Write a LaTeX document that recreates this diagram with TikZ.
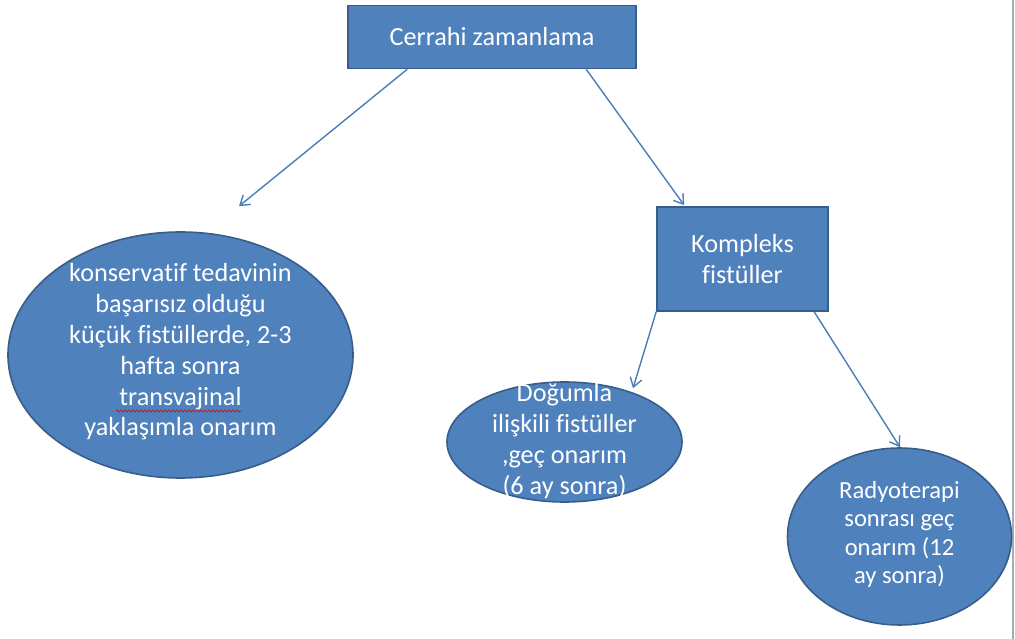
\documentclass[tikz,border=0pt]{standalone}
\usepackage{fontspec}
\setmainfont{Carlito}[Ligatures=NoCommon]
\usetikzlibrary{arrows.meta,shapes.geometric,calc,decorations.pathmorphing}
\definecolor{boxfill}{HTML}{4F81BD}
\definecolor{boxline}{HTML}{385D8A}
\definecolor{arrowblue}{HTML}{4A7EBB}
\definecolor{edgegrey}{HTML}{A3ABB8}
\begin{document}
\begin{tikzpicture}[x=1pt,y=-1pt,
  box/.style={rectangle, draw=boxline, fill=boxfill, line width=1.6pt, inner sep=0pt},
  oval/.style={ellipse, draw=boxline, fill=boxfill, line width=1.6pt, inner sep=0pt},
  txt/.style={text=white, align=center, font=\fontsize{26.2}{30.8}\selectfont, inner sep=0pt},
  link/.style={draw=arrowblue, line width=1.4pt, -{Straight Barb[length=9pt,width=12pt,line width=1.4pt]}}
]
% page frame
\useasboundingbox (0,0) rectangle (1015,639);
\fill[white] (0,0) rectangle (1015,639);
\draw[edgegrey, line width=2pt] (1012.5,0) -- (1012.5,639);

% boxes
\node[box, minimum width=288pt, minimum height=63pt] (top) at (492,37) {};
\node[txt] (topText) at (top.center) {Cerrahi zamanlama};
\node[box, minimum width=171pt, minimum height=104pt] (komp) at (742.5,259) {};
\node[txt] (kompText) at (komp.center) {Kompleks\\fistüller};

% ellipses
\node[oval, minimum width=345pt, minimum height=246pt] (left) at (180.5,355) {};
\node[txt] (leftText) at ($(left.center)+(0,-3)$) {konservatif tedavinin\\başarısız olduğu\\küçük fistüllerde, 2-3\\hafta sonra\\transvajinal\\yaklaşımla onarım};
\node[oval, minimum width=235pt, minimum height=120pt] (dog) at (564.5,442) {};
\node[txt] (dogText) at ($(dog.center)+(0,-1)$) {Doğumla\\ilişkili fistüller\\,geç onarım\\(6 ay sonra)};
\node[oval, minimum width=224pt, minimum height=177pt] (rad) at (899.5,536.5) {};
\node[txt, font=\fontsize{24.6}{28.5}\selectfont] (radText) at ($(rad.center)+(0,-2)$) {Radyoterapi\\sonrası geç\\onarım (12\\ay sonra)};

% spell-check squiggle
\draw[red!85!black, line width=0.7pt, decorate, decoration={snake, amplitude=1pt, segment length=4pt}] (116,411) -- (241,411);

% arrow end points
\coordinate (e1) at ($(left.north)+(58.5,-25)$);
\coordinate (e2) at ($(komp.north west)+(28,-1)$);
\coordinate (e3) at ($(dog.north)+(68.5,7)$);
\coordinate (e4) at ($(rad.north)+(0.5,0)$);

% connectors
\draw[link] ($(top.south west)+(60,0)$) -- (e1);
\draw[link] ($(top.south west)+(239,0)$) -- (e2);
\draw[link] (komp.south west) -- (e3);
\draw[link] ($(komp.south west)+(158,0)$) -- (e4);
\end{tikzpicture}
\end{document}
